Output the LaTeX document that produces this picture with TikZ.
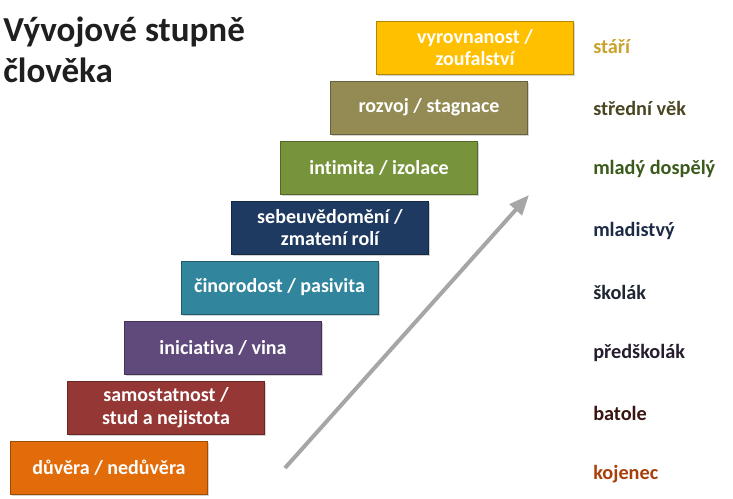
\documentclass[tikz,border=0pt]{standalone}
\usepackage{fontspec}
\setmainfont{Carlito}[Ligatures=NoCommon]
\usetikzlibrary{arrows.meta,shadows}
\definecolor{cOrange}{HTML}{E36C0A}
\definecolor{cRed}{HTML}{953735}
\definecolor{cPurple}{HTML}{604A7B}
\definecolor{cTeal}{HTML}{31859C}
\definecolor{cNavy}{HTML}{1F3A60}
\definecolor{cGreen}{HTML}{77933C}
\definecolor{cKhaki}{HTML}{948A54}
\definecolor{cGold}{HTML}{FFC000}
\definecolor{lGold}{HTML}{C8A22A}
\definecolor{lKhaki}{HTML}{4A4522}
\definecolor{lGreen}{HTML}{3B5A1C}
\definecolor{lNavy}{HTML}{1C2B45}
\definecolor{lDark}{HTML}{1E2633}
\definecolor{lPurple}{HTML}{261C2E}
\definecolor{lRed}{HTML}{3A1610}
\definecolor{lOrange}{HTML}{A8400C}
\definecolor{arrowgray}{HTML}{A6A6A6}
\tikzset{
  stagebox/.style={draw=#1!70!black, line width=0.6pt, fill=#1, text=white,
    minimum width=147.75pt, minimum height=39.75pt, align=center,
    font=\bfseries\fontsize{15}{17}\selectfont, inner sep=2pt,
    drop shadow={opacity=0.35, shadow xshift=1.2pt, shadow yshift=-1.2pt}},
  agelabel/.style={anchor=west, text=#1, font=\bfseries\fontsize{15.2}{17}\selectfont, inner sep=0pt},
  growarrow/.style={draw=arrowgray, line width=3pt, -{Triangle[length=15pt,width=12pt]}}
}
\begin{document}
\begin{tikzpicture}[x=0.75pt,y=-0.75pt]
\useasboundingbox (0,0) rectangle (733,499);
\node[anchor=north west, align=left, inner sep=0pt, font=\bfseries\fontsize{26.3}{30.5}\selectfont, text=black!88] (title) at (3,16.5) {Vývojové stupně\\člověka};

\node[stagebox=cOrange] (s1) at (109,467.5) {důvěra / nedůvěra};
\node[stagebox=cRed] (s2) at (166,408) {samostatnost /\\stud a nejistota};
\node[stagebox=cPurple] (s3) at (223,347.5) {iniciativa / vina};
\node[stagebox=cTeal] (s4) at (279.5,287.5) {činorodost / pasivita};
\node[stagebox=cNavy] (s5) at (330,227.5) {sebeuvědomění /\\zmatení rolí};
\node[stagebox=cGreen] (s6) at (379,167.5) {intimita / izolace};
\node[stagebox=cKhaki] (s7) at (429,107.5) {rozvoj / stagnace};
\node[stagebox=cGold] (s8) at (475,47.5) {vyrovnanost /\\zoufalství};

\node[agelabel=lGold] (a8) at (593,47) {stáří};
\node[agelabel=lKhaki] (a7) at (593,108) {střední věk};
\node[agelabel=lGreen] (a6) at (593,169) {mladý dospělý};
\node[agelabel=lNavy] (a5) at (593,231) {mladistvý};
\node[agelabel=lDark] (a4) at (593,292) {školák};
\node[agelabel=lPurple] (a3) at (593,353) {předškolák};
\node[agelabel=lRed] (a2) at (593,413) {batole};
\node[agelabel=lOrange] (a1) at (593,474) {kojenec};

\coordinate (arrstart) at (285,468);
\coordinate (arrend) at (529,195);
\draw[growarrow] (arrstart) -- (arrend);
\end{tikzpicture}
\end{document}
